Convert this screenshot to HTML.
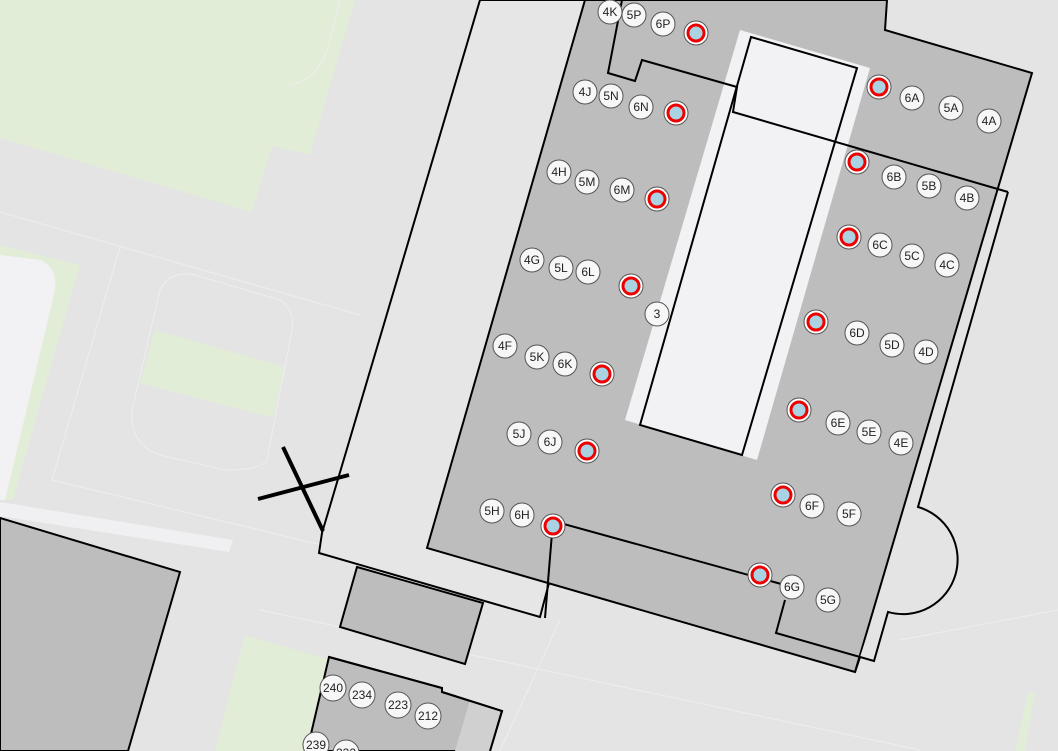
<!DOCTYPE html>
<html><head><meta charset="utf-8"><style>
html,body{margin:0;padding:0;background:#e4e4e4;}
svg{display:block}
text{font-family:"Liberation Sans",sans-serif;font-size:12px;fill:#222;text-anchor:middle;dominant-baseline:central}
</style></head><body>
<svg width="1058" height="751" viewBox="0 0 1058 751" xmlns="http://www.w3.org/2000/svg">
<rect width="1058" height="751" fill="#e4e4e4"/>
<polygon points="0,0 355,0 310,155 272,146 252,212 0,138" fill="#e2edd8"/>
<polygon points="0,245 80,265 13,500 0,500" fill="#e2edd8"/>
<path d="M0,255 L40,260 Q58,268 55,290 L5,500 L0,500 Z" fill="#f2f2f4"/>
<polygon points="155,330 285,367 273,418 140,383" fill="#e2edd8"/>
<polygon points="245,635 330,660 305,751 215,751" fill="#e2edd8"/>
<polygon points="1028,693 1035,693 1025,751 1015,751" fill="#e2edd8"/>
<polygon points="0,502 233,540 229,552 0,516" fill="#f0f0f2"/>
<g stroke="#eeeeee" stroke-width="1" fill="none">
<polyline points="0,212 360,315"/>
<polyline points="120,247 52,480 330,547"/>
<path d="M195,275 L280,300 Q295,310 292,330 L267,460 Q260,470 225,470 L160,455 Q130,445 132,410 L160,290 Q170,270 195,275Z"/>
<path d="M340,0 L330,40 Q320,80 290,85"/>
<polyline points="260,610 920,750"/>
<polyline points="560,620 500,751"/>
<polyline points="900,640 1058,610"/>
</g>
<polygon points="0,518 180,572 128,751 0,751" fill="#bdbdbd" stroke="#000" stroke-width="2"/>
<polygon points="480,0 590,0 553,521 549,583 540,617 319,553 322,533" fill="#e6e6e6" stroke="#000" stroke-width="2"/>
<polygon points="357,567 483,603 465,664 340,627" fill="#bdbdbd" stroke="#000" stroke-width="2"/>
<polygon points="585,0 887,0 885,30 1032,73 855,672 427,548" fill="#bdbdbd" stroke="#000" stroke-width="2"/>
<polygon points="1008,192 918,507 888,612 874,661 860,657 1010,195" fill="#e4e4e4"/>
<path d="M918,507 A52,52 0 0 1 888,612 Z" fill="#e4e4e4" stroke="none"/>
<path d="M1008,192 L918,507 A52,52 0 0 1 888,612 L874,661 L776,633 L785,600" fill="none" stroke="#000" stroke-width="2"/>
<polyline points="855,672 860,657" stroke="#000" stroke-width="2" fill="none"/>
<polygon points="740,30 870,68 757,460 625,420" fill="#f2f2f4"/>
<polygon points="751,37 857,68 742,455 640,425" fill="#f2f2f4" stroke="#000" stroke-width="2"/>
<polyline points="622,0 608,73 635,81 642,60 737,87 733,112 1008,192" fill="none" stroke="#000" stroke-width="2"/>
<polyline points="545,618 553,521 792,587" fill="none" stroke="#000" stroke-width="2"/>
<polygon points="329,657 442,688 442,692 502,711 490,751 307,751" fill="#bdbdbd" stroke="#000" stroke-width="2"/>
<polygon points="470,700 500,711 490,751 455,751" fill="#d0d0d0"/>
<polyline points="329,657 442,688 442,692 502,711 490,751" fill="none" stroke="#000" stroke-width="2"/>
<line x1="283" y1="447" x2="323" y2="531" stroke="#000" stroke-width="4"/>
<line x1="258" y1="499" x2="349" y2="475" stroke="#000" stroke-width="4"/>
<g stroke="#555" stroke-width="1" fill="#fff">
<circle cx="696" cy="33" r="12"/><circle cx="676" cy="113" r="12"/><circle cx="657" cy="199" r="12"/><circle cx="631" cy="286" r="12"/><circle cx="602" cy="374" r="12"/><circle cx="587" cy="451" r="12"/><circle cx="553" cy="526" r="12"/>
<circle cx="879" cy="87" r="12"/><circle cx="857" cy="162" r="12"/><circle cx="849" cy="237" r="12"/><circle cx="816" cy="322" r="12"/><circle cx="799" cy="410" r="12"/><circle cx="783" cy="495" r="12"/><circle cx="760" cy="575" r="12"/>
</g>
<g fill="#a9d3e3" stroke="#e00" stroke-width="3">
<circle cx="696" cy="33" r="8"/><circle cx="676" cy="113" r="8"/><circle cx="657" cy="199" r="8"/><circle cx="631" cy="286" r="8"/><circle cx="602" cy="374" r="8"/><circle cx="587" cy="451" r="8"/><circle cx="553" cy="526" r="8"/>
<circle cx="879" cy="87" r="8"/><circle cx="857" cy="162" r="8"/><circle cx="849" cy="237" r="8"/><circle cx="816" cy="322" r="8"/><circle cx="799" cy="410" r="8"/><circle cx="783" cy="495" r="8"/><circle cx="760" cy="575" r="8"/>
</g>
<g fill="#f7f7f7" stroke="#555" stroke-width="1">
<circle cx="610" cy="12" r="12"/><circle cx="634" cy="15" r="12"/><circle cx="663" cy="24" r="12"/>
<circle cx="585" cy="92" r="12"/><circle cx="611" cy="96" r="12"/><circle cx="641" cy="107" r="12"/>
<circle cx="559" cy="172" r="12"/><circle cx="587" cy="182" r="12"/><circle cx="622" cy="190" r="12"/>
<circle cx="532" cy="260" r="12"/><circle cx="561" cy="268" r="12"/><circle cx="588" cy="272" r="12"/><circle cx="657" cy="314" r="12"/>
<circle cx="505" cy="346" r="12"/><circle cx="537" cy="357" r="12"/><circle cx="565" cy="364" r="12"/>
<circle cx="519" cy="434" r="12"/><circle cx="550" cy="442" r="12"/>
<circle cx="492" cy="511" r="12"/><circle cx="522" cy="515" r="12"/>
<circle cx="912" cy="98" r="12"/><circle cx="951" cy="108" r="12"/><circle cx="989" cy="121" r="12"/>
<circle cx="894" cy="177" r="12"/><circle cx="929" cy="186" r="12"/><circle cx="967" cy="198" r="12"/>
<circle cx="880" cy="245" r="12"/><circle cx="912" cy="256" r="12"/><circle cx="947" cy="265" r="12"/>
<circle cx="857" cy="333" r="12"/><circle cx="892" cy="345" r="12"/><circle cx="926" cy="352" r="12"/>
<circle cx="838" cy="423" r="12"/><circle cx="869" cy="432" r="12"/><circle cx="901" cy="443" r="12"/>
<circle cx="812" cy="506" r="12"/><circle cx="849" cy="514" r="12"/>
<circle cx="792" cy="587" r="12"/><circle cx="828" cy="600" r="12"/>
<circle cx="333" cy="688" r="13"/><circle cx="362" cy="695" r="13"/><circle cx="398" cy="705" r="13"/><circle cx="428" cy="716" r="13"/><circle cx="316" cy="745" r="13"/><circle cx="346" cy="753" r="13"/>
</g>
<text x="610" y="12">4K</text><text x="634" y="15">5P</text><text x="663" y="24">6P</text>
<text x="585" y="92">4J</text><text x="611" y="96">5N</text><text x="641" y="107">6N</text>
<text x="559" y="172">4H</text><text x="587" y="182">5M</text><text x="622" y="190">6M</text>
<text x="532" y="260">4G</text><text x="561" y="268">5L</text><text x="588" y="272">6L</text><text x="657" y="314">3</text>
<text x="505" y="346">4F</text><text x="537" y="357">5K</text><text x="565" y="364">6K</text>
<text x="519" y="434">5J</text><text x="550" y="442">6J</text>
<text x="492" y="511">5H</text><text x="522" y="515">6H</text>
<text x="912" y="98">6A</text><text x="951" y="108">5A</text><text x="989" y="121">4A</text>
<text x="894" y="177">6B</text><text x="929" y="186">5B</text><text x="967" y="198">4B</text>
<text x="880" y="245">6C</text><text x="912" y="256">5C</text><text x="947" y="265">4C</text>
<text x="857" y="333">6D</text><text x="892" y="345">5D</text><text x="926" y="352">4D</text>
<text x="838" y="423">6E</text><text x="869" y="432">5E</text><text x="901" y="443">4E</text>
<text x="812" y="506">6F</text><text x="849" y="514">5F</text>
<text x="792" y="587">6G</text><text x="828" y="600">5G</text>
<text x="333" y="688">240</text><text x="362" y="695">234</text><text x="398" y="705">223</text><text x="428" y="716">212</text><text x="316" y="745">239</text><text x="346" y="753">232</text>
</svg>
</body></html>
